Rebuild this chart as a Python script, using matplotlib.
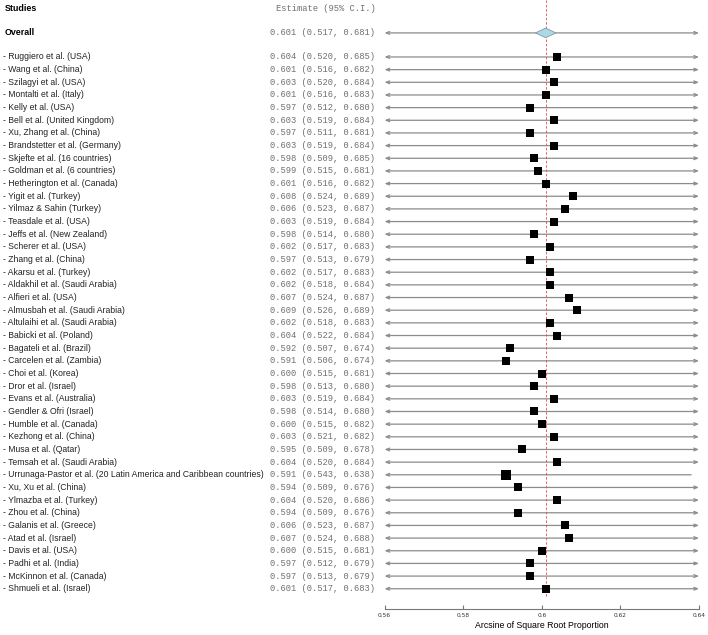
import matplotlib
matplotlib.use("agg")
import matplotlib.pyplot as plt
from matplotlib.transforms import blended_transform_factory

studies = [
    "Ruggiero et al. (USA)", "Wang et al. (China)", "Szilagyi et al. (USA)",
    "Montalti et al. (Italy)", "Kelly et al. (USA)", "Bell et al. (United Kingdom)",
    "Xu, Zhang et al. (China)", "Brandstetter et al. (Germany)",
    "Skjefte et al. (16 countries)", "Goldman et al. (6 countries)",
    "Hetherington et al. (Canada)", "Yigit et al. (Turkey)", "Yilmaz & Sahin (Turkey)",
    "Teasdale et al. (USA)", "Jeffs et al. (New Zealand)", "Scherer et al. (USA)",
    "Zhang et al. (China)", "Akarsu et al. (Turkey)", "Aldakhil et al. (Saudi Arabia)",
    "Alfieri et al. (USA)", "Almusbah et al. (Saudi Arabia)",
    "Altulaihi et al. (Saudi Arabia)", "Babicki et al. (Poland)",
    "Bagateli et al. (Brazil)", "Carcelen et al. (Zambia)", "Choi et al. (Korea)",
    "Dror et al. (Israel)", "Evans et al. (Australia)", "Gendler & Ofri (Israel)",
    "Humble et al. (Canada)", "Kezhong et al. (China)", "Musa et al. (Qatar)",
    "Temsah et al. (Saudi Arabia)",
    "Urrunaga-Pastor et al. (20 Latin America and Caribbean countries)",
    "Xu, Xu et al. (China)", "Ylmazba et al. (Turkey)", "Zhou et al. (China)",
    "Galanis et al. (Greece)", "Atad et al. (Israel)", "Davis et al. (USA)",
    "Padhi et al. (India)", "McKinnon et al. (Canada)", "Shmueli et al. (Israel)",
]
est = [0.604, 0.601, 0.603, 0.601, 0.597, 0.603, 0.597, 0.603, 0.598, 0.599,
       0.601, 0.608, 0.606, 0.603, 0.598, 0.602, 0.597, 0.602, 0.602, 0.607,
       0.609, 0.602, 0.604, 0.592, 0.591, 0.600, 0.598, 0.603, 0.598, 0.600,
       0.603, 0.595, 0.604, 0.591, 0.594, 0.604, 0.594, 0.606, 0.607, 0.600,
       0.597, 0.597, 0.601]
lower = [0.520, 0.516, 0.520, 0.516, 0.512, 0.519, 0.511, 0.519, 0.509, 0.515,
         0.516, 0.524, 0.523, 0.519, 0.514, 0.517, 0.513, 0.517, 0.518, 0.524,
         0.526, 0.518, 0.522, 0.507, 0.506, 0.515, 0.513, 0.519, 0.514, 0.515,
         0.521, 0.509, 0.520, 0.543, 0.509, 0.520, 0.509, 0.523, 0.524, 0.515,
         0.512, 0.513, 0.517]
upper = [0.685, 0.682, 0.684, 0.683, 0.680, 0.684, 0.681, 0.684, 0.685, 0.681,
         0.682, 0.689, 0.687, 0.684, 0.680, 0.683, 0.679, 0.683, 0.684, 0.687,
         0.689, 0.683, 0.684, 0.674, 0.674, 0.681, 0.680, 0.684, 0.680, 0.682,
         0.682, 0.678, 0.684, 0.638, 0.676, 0.686, 0.676, 0.687, 0.688, 0.681,
         0.679, 0.679, 0.683]
overall_est, overall_lo, overall_hi = 0.601, 0.517, 0.681
xmin, xmax = 0.56, 0.64
xticks = [0.56, 0.58, 0.60, 0.62, 0.64]
xticklabels = ["0.56", "0.58", "0.6", "0.62", "0.64"]

fig = plt.figure(figsize=(7.08, 6.35), dpi=100)
ax = fig.add_axes([384.5 / 708, 26 / 635, 314.5 / 708, 609 / 635])
ax.set_xlim(xmin, xmax)
ax.set_ylim(43.6, -4.5)
tr = blended_transform_factory(fig.transFigure, ax.transData)

linecol = "#8c8c8c"
label_font = dict(family="Liberation Sans", fontsize=6.2, color="#222222")
mono_font = dict(family="Liberation Mono", fontsize=6.3, color="#707070")


def ci_line(y, lo, hi):
    a, b = max(lo, xmin), min(hi, xmax)
    style = ("<" if lo < xmin else "") + "-" + (">" if hi > xmax else "")
    ax.annotate("", xy=(b, y), xytext=(a, y), annotation_clip=False,
                arrowprops=dict(arrowstyle=style + ",head_length=0.25,head_width=0.1",
                                color=linecol, lw=0.9, shrinkA=0, shrinkB=0))


# header
ax.text(5 / 708, -3.8, "Studies", transform=tr, va="center", ha="left",
        family="Liberation Sans", fontsize=6.4, fontweight="bold")
ax.text(276 / 708, -3.8, "Estimate (95% C.I.)", transform=tr, va="center",
        ha="left", **mono_font)

# overall
y0 = -1.9
ax.text(5 / 708, y0, "Overall", transform=tr, va="center", ha="left",
        family="Liberation Sans", fontsize=6.4, fontweight="bold")
ax.text(270 / 708, y0, f"{overall_est:.3f} ({overall_lo:.3f}, {overall_hi:.3f})",
        transform=tr, va="center", ha="left", **mono_font)
ci_line(y0, overall_lo, overall_hi)
dw, dh = 0.0026, 0.38
ax.fill([overall_est - dw, overall_est, overall_est + dw, overall_est],
        [y0, y0 - dh, y0, y0 + dh], facecolor="#add8e6", edgecolor="#7a9aa6",
        lw=0.6, zorder=4)

# studies
for i, name in enumerate(studies):
    ax.text(3 / 708, i, "- " + name, transform=tr, va="center", ha="left", **label_font)
    ax.text(270 / 708, i, f"{est[i]:.3f} ({lower[i]:.3f}, {upper[i]:.3f})",
            transform=tr, va="center", ha="left", **mono_font)
    ci_line(i, lower[i], upper[i])
    ms = 5.9 * (0.165 / (upper[i] - lower[i])) ** 0.45
    ax.plot(est[i], i, marker="s", color="black", markersize=ms, mew=0, zorder=5)

ax.vlines(overall_est, -4.5, 42.7, colors="#e84a45", linestyles=(0, (3, 2.2)),
          lw=0.6, zorder=3)

for s in ["top", "right", "left"]:
    ax.spines[s].set_visible(False)
ax.spines["bottom"].set_color("#777777")
ax.spines["bottom"].set_linewidth(0.8)
ax.set_yticks([])
ax.set_xticks(xticks)
ax.set_xticklabels(xticklabels)
ax.tick_params(axis="x", direction="in", length=3, width=0.8, color="#777777",
               labelsize=4.2, labelcolor="#333333", pad=3)
ax.set_xlabel("Arcsine of Square Root Proportion", family="Liberation Sans",
              fontsize=6.3, labelpad=2)

fig.savefig("out.png", dpi=100)
